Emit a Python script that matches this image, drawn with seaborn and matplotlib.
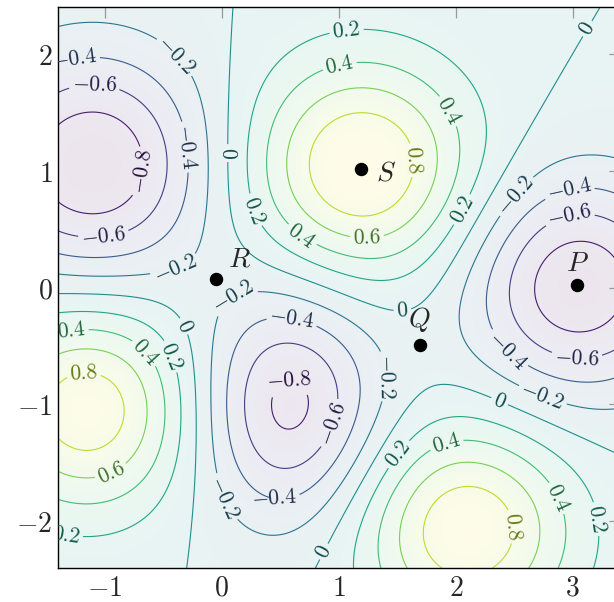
import numpy as np
import matplotlib
matplotlib.use("Agg")
import matplotlib.pyplot as plt
import seaborn as sns

# extrema of the surface
peak_x = [1.19, -1.14, 2.09, -1.10, 0.57, 3.04]
peak_y = [1.03, -1.04, -2.07, 1.05, -1.01, 0.01]
peak_val = [1.04, 0.95, 0.98, -1.00, -0.88, -0.97]
peak_sx = [0.67, 0.62, 0.64, 0.68, 0.55, 0.65]
peak_sy = [0.65, 0.62, 0.62, 0.68, 0.70, 0.65]

levels = [-0.8, -0.6, -0.4, -0.2, 0.0, 0.2, 0.4, 0.6, 0.8]

pt_names = ["P", "Q", "R", "S"]
pt_x = [3.04, 1.69, -0.05, 1.19]
pt_y = [0.02, -0.49, 0.07, 1.01]

xticks = [-1, 0, 1, 2, 3]
yticks = [-2, -1, 0, 1, 2]

# where the contour labels sit
label_spots = [(-1.26, 1.95), (-1.09, 1.71), (-0.35, 2.02), (-0.24, 1.21), (-0.61, 0.98),
               (0.09, 1.15), (-1.01, 0.44), (-0.38, 0.11), (0.04, 0.03), (0.30, 0.67),
               (0.68, 0.44), (1.06, 2.25), (1.00, 1.93), (1.92, 1.50), (1.62, 1.09),
               (1.24, 0.43), (2.03, 0.68), (3.05, 2.26), (2.47, 0.82), (2.95, 0.92),
               (2.95, 0.71), (-1.29, -0.33), (-0.34, -0.34), (-0.65, -0.55), (-0.44, -0.59),
               (-1.18, -0.73), (-0.95, -1.57), (-1.35, -2.21), (0.60, -0.27), (0.57, -0.74),
               (0.90, -1.15), (0.46, -1.75), (-0.01, -1.81), (0.76, -2.20), (1.54, -0.13),
               (1.49, -0.76), (2.39, -0.59), (3.03, -0.66), (2.38, -0.96), (2.74, -0.93),
               (1.49, -1.41), (1.90, -1.27), (2.85, -1.81), (2.44, -2.05), (3.21, -1.98)]

sns.set_theme(style="white")
plt.rcParams["mathtext.fontset"] = "cm"

gx = np.linspace(-1.4, 3.4, 400)
gy = np.linspace(-2.4, 2.4, 400)
X, Y = np.meshgrid(gx, gy)
Z = np.zeros_like(X)
for px, py, v, sx, sy in zip(peak_x, peak_y, peak_val, peak_sx, peak_sy):
    Z += v * np.exp(-((X - px) ** 2 / (2 * sx ** 2) + (Y - py) ** 2 / (2 * sy ** 2)))

fig = plt.figure(figsize=(6.14, 6.02), dpi=100)
ax = fig.add_axes([58 / 614, 34 / 602, 4.8 * 117 / 614, 561 / 602])

cmap = plt.get_cmap("viridis")
norm = plt.Normalize(-0.95, 1.0)
# pale wash of the colormap under the lines
wash = 0.1 * cmap(norm(Z))[..., :3] + 0.9
ax.imshow(wash, extent=(-1.4, 3.4, -2.4, 2.4), origin="lower", interpolation="bilinear")
cs = ax.contour(X, Y, Z, levels=levels, cmap=cmap, norm=norm, linewidths=0.8)

lab_cols = [tuple(0.55 * c for c in cmap(norm(l))[:3]) for l in levels]
ax.clabel(cs, inline=True, fontsize=15.5, colors=lab_cols, manual=label_spots,
          fmt=lambda v: "$%g$" % round(v, 1), inline_spacing=3)

ax.scatter(pt_x, pt_y, s=75, color="black", zorder=5)
offs = {"P": (0, 16), "Q": (0, 18), "R": (17, 15), "S": (18, -2)}
for n, x, y in zip(pt_names, pt_x, pt_y):
    ax.annotate("$%s$" % n, (x, y), xytext=offs[n], textcoords="offset points",
                fontsize=20, ha="center", va="center")

ax.set_xlim(-1.4, 3.4)
ax.set_ylim(-2.4, 2.4)
ax.set_aspect("auto")
ax.set_xticks(xticks, labels=["$%d$" % t for t in xticks])
ax.set_yticks(yticks, labels=["$%d$" % t for t in yticks])
ax.tick_params(direction="in", length=8, width=0.9, color="#999999", labelsize=20,
               top=True, right=True, pad=4)
for s in ax.spines.values():
    s.set_color("black")
    s.set_linewidth(1.0)

fig.savefig("out.png", dpi=100)
